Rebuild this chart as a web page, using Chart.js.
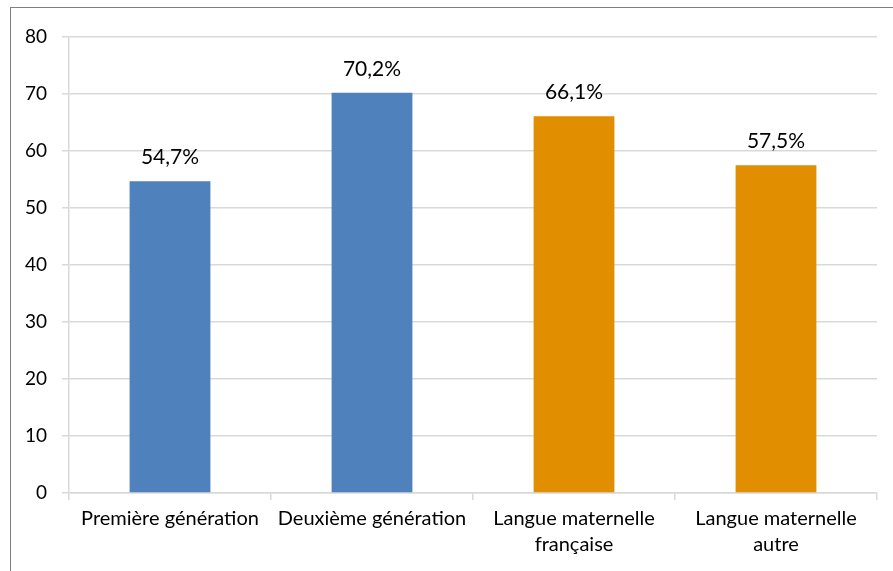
<!DOCTYPE html>
<html>
<head>
<meta charset="utf-8">
<script src="https://cdn.jsdelivr.net/npm/chart.js@4"></script>
<style>
  html, body { margin: 0; padding: 0; background: #fff; overflow: hidden; }
  #wrap { position: relative; width: 893px; height: 571px; }
  #frame { position: absolute; left: 10px; top: 7px; width: 900px; height: 600px; border: 1px solid #7f7f7f; pointer-events: none; }
</style>
</head>
<body>
<div id="wrap">
  <canvas id="chart" width="893" height="571"></canvas>
  <div id="frame"></div>
</div>
<script>
// categories and values
const categories = [
    'Première génération',
    'Deuxième génération',
    ['Langue maternelle', 'française'],
    ['Langue maternelle', 'autre']
];
const values = [54.7, 70.2, 66.1, 57.5];
const valueLabels = ['54,7%', '70,2%', '66,1%', '57,5%'];
const barColors = ['#4F81BD', '#4F81BD', '#E18E00', '#E18E00'];
const yTicks = [0, 10, 20, 30, 40, 50, 60, 70, 80];

const fontFamily = 'Lato, "Liberation Sans", sans-serif';

// draw the % labels above each bar
const valueLabelPlugin = {
    id: 'valueLabels',
    afterDatasetsDraw(chart) {
        const ctx = chart.ctx;
        const meta = chart.getDatasetMeta(0);
        ctx.save();
        ctx.font = '21px ' + fontFamily;
        ctx.fillStyle = '#000';
        ctx.textAlign = 'center';
        ctx.textBaseline = 'middle';
        meta.data.forEach(function(bar, i) {
            ctx.fillText(valueLabels[i], bar.x, bar.y - 24);
        });
        ctx.restore();
    }
};

new Chart(document.getElementById('chart'), {
    type: 'bar',
    data: {
        labels: categories,
        datasets: [{
            data: values,
            backgroundColor: barColors,
            borderWidth: 0,
            barPercentage: 0.4,
            categoryPercentage: 1.0
        }]
    },
    options: {
        responsive: false,
        animation: false,
        devicePixelRatio: 1,
        layout: {
            padding: { left: 0, top: 37, right: 16, bottom: 0 }
        },
        plugins: {
            legend: { display: false },
            tooltip: { enabled: false }
        },
        scales: {
            x: {
                afterFit: function(scale) { scale.height = 78; },
                grid: {
                    offset: true,
                    drawOnChartArea: false,
                    drawTicks: true,
                    tickLength: 7,
                    color: '#d9d9d9',
                    lineWidth: 1.5
                },
                border: { display: true, color: '#d9d9d9', width: 1.5 },
                ticks: {
                    color: '#000',
                    padding: 6,
                    maxRotation: 0,
                    autoSkip: false,
                    font: { size: 20, family: fontFamily, lineHeight: 1.3 }
                }
            },
            y: {
                min: 0,
                max: 80,
                afterFit: function(scale) { scale.width = 69; },
                afterBuildTicks: function(scale) {
                    scale.ticks = yTicks.map(function(v) { return { value: v }; });
                },
                grid: {
                    drawTicks: true,
                    tickLength: 7,
                    color: '#d9d9d9',
                    lineWidth: 1.5
                },
                border: { display: true, color: '#d9d9d9', width: 1.5 },
                ticks: {
                    color: '#000',
                    padding: 15,
                    font: { size: 19, family: fontFamily }
                }
            }
        }
    },
    plugins: [valueLabelPlugin]
});
</script>
</body>
</html>
